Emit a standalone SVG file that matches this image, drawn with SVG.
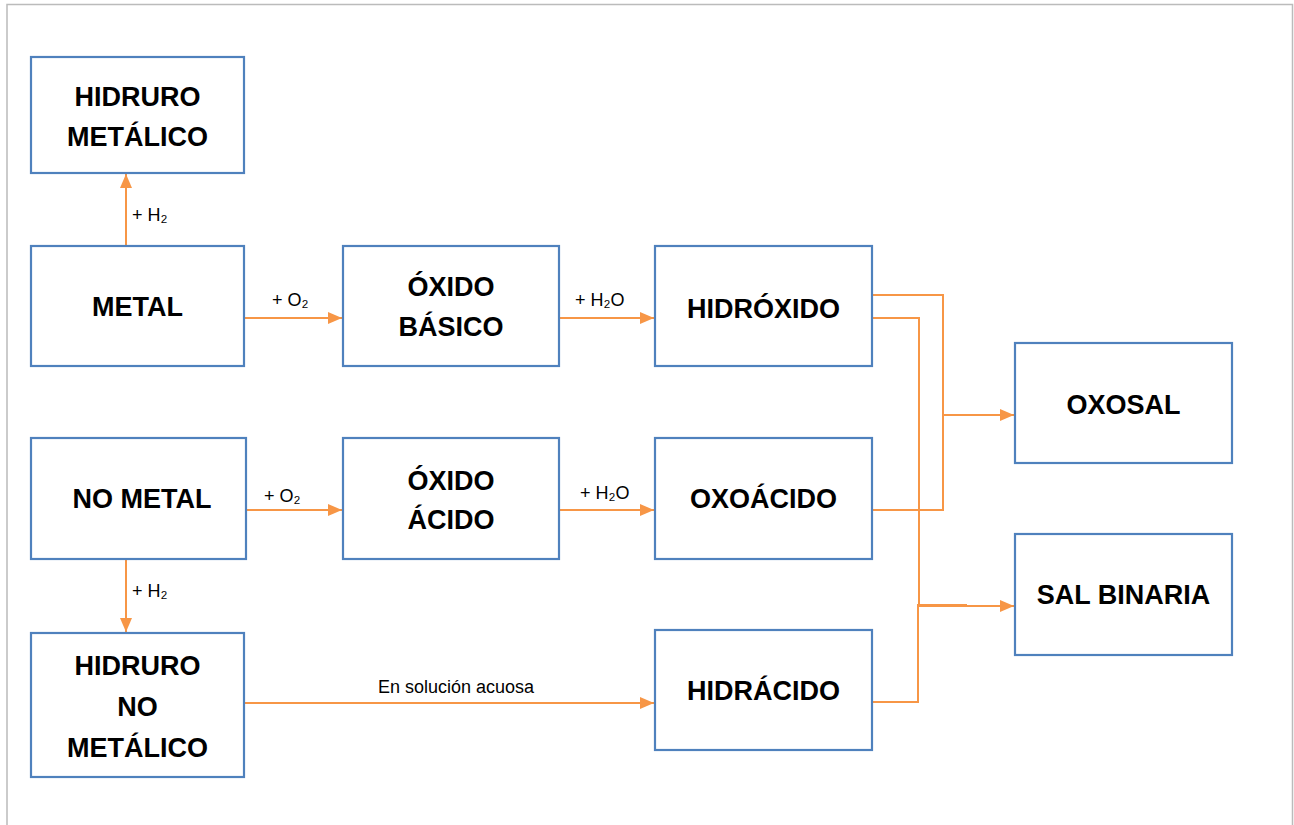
<svg xmlns="http://www.w3.org/2000/svg" width="1294" height="825" viewBox="0 0 1294 825">
<style>
.box{fill:#fff;stroke:#4F81BD;stroke-width:2.2}
.t{font-family:"Liberation Sans",Arial,sans-serif;font-weight:bold;font-size:27px;fill:#000;text-anchor:middle}
.s{font-family:"Liberation Sans","DejaVu Sans",Arial,sans-serif;font-size:18px;fill:#000}
.c{fill:none;stroke:#F79646;stroke-width:2}
</style>
<defs>
<marker id="ah" markerWidth="14" markerHeight="12" refX="14" refY="6" orient="auto" markerUnits="userSpaceOnUse">
<path d="M0,0 L14,6 L0,12 Z" fill="#F79646"/>
</marker>
</defs>
<rect width="1294" height="825" fill="#fff"/>
<path d="M7,825 V4.5 H1292.5 V825" fill="none" stroke="#BBBBBB" stroke-width="1.5"/>

<g id="connectors">
<path class="c" d="M126,246 V174" marker-end="url(#ah)"/>
<path class="c" d="M244,318 H342" marker-end="url(#ah)"/>
<path class="c" d="M559,318 H654" marker-end="url(#ah)"/>
<path class="c" d="M246,510 H342" marker-end="url(#ah)"/>
<path class="c" d="M559,510 H654" marker-end="url(#ah)"/>
<path class="c" d="M126,559 V632" marker-end="url(#ah)"/>
<path class="c" d="M244,703 H654" marker-end="url(#ah)"/>
<path class="c" d="M872,295 H943 V415 H1014" marker-end="url(#ah)"/>
<path class="c" d="M872,510 H943 V415"/>
<path class="c" d="M872,318 H919 V606 H1014" marker-end="url(#ah)"/>
<path class="c" d="M872,702 H918 V605 H967"/>
</g>

<g class="s">
<text x="132" y="221">+ H₂</text>
<text x="272" y="306">+ O₂</text>
<text x="575" y="306">+ H₂O</text>
<text x="264" y="502">+ O₂</text>
<text x="580" y="499">+ H₂O</text>
<text x="132" y="597">+ H₂</text>
<text x="456" y="693" text-anchor="middle">En solución acuosa</text>
</g>

<g id="hidruro-metalico"><rect class="box" x="31" y="57" width="213" height="116"/>
<text class="t" x="137.5" y="106">HIDRURO</text><text class="t" x="137.5" y="146">METÁLICO</text></g>
<g id="metal"><rect class="box" x="31" y="246" width="213" height="120"/>
<text class="t" x="137.5" y="316">METAL</text></g>
<g id="oxido-basico"><rect class="box" x="343" y="246" width="216" height="120"/>
<text class="t" x="451" y="296">ÓXIDO</text><text class="t" x="451" y="336">BÁSICO</text></g>
<g id="hidroxido"><rect class="box" x="655" y="246" width="217" height="120"/>
<text class="t" x="763.5" y="318">HIDRÓXIDO</text></g>
<g id="oxosal"><rect class="box" x="1015" y="343" width="217" height="120"/>
<text class="t" x="1123.5" y="414">OXOSAL</text></g>
<g id="no-metal"><rect class="box" x="31" y="438" width="215" height="121"/>
<text class="t" x="142" y="508">NO METAL</text></g>
<g id="oxido-acido"><rect class="box" x="343" y="438" width="216" height="121"/>
<text class="t" x="451" y="490">ÓXIDO</text><text class="t" x="451" y="529">ÁCIDO</text></g>
<g id="oxoacido"><rect class="box" x="655" y="438" width="217" height="121"/>
<text class="t" x="763.5" y="508">OXOÁCIDO</text></g>
<g id="sal-binaria"><rect class="box" x="1015" y="534" width="217" height="121"/>
<text class="t" x="1123.5" y="604">SAL BINARIA</text></g>
<g id="hidruro-no-metalico"><rect class="box" x="31" y="633" width="213" height="144"/>
<text class="t" x="137.5" y="675">HIDRURO</text><text class="t" x="137.5" y="716">NO</text><text class="t" x="137.5" y="757">METÁLICO</text></g>
<g id="hidracido"><rect class="box" x="655" y="630" width="217" height="120"/>
<text class="t" x="763.5" y="700">HIDRÁCIDO</text></g>
</svg>
